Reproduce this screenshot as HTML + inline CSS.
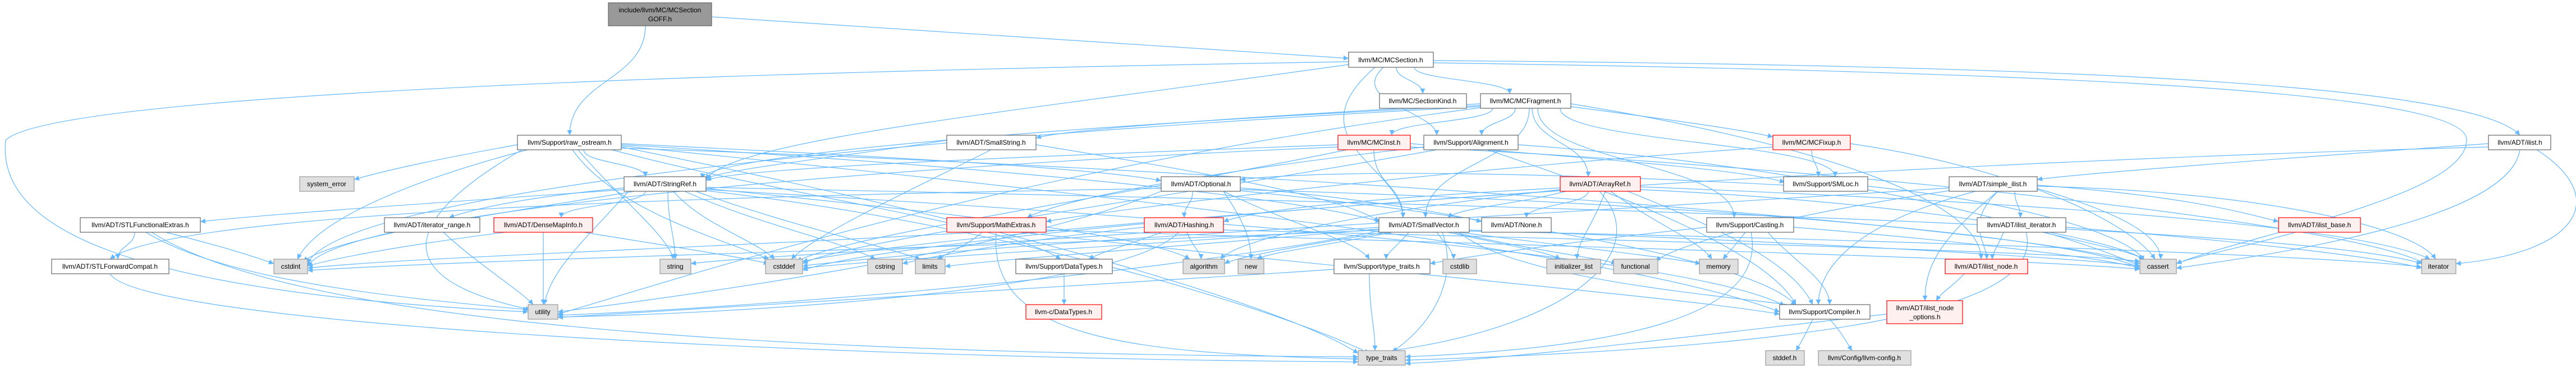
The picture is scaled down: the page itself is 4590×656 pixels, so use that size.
<!DOCTYPE html>
<html><head><meta charset="utf-8"><style>
html,body{margin:0;padding:0;background:#fff;}
svg{display:block;}
text{font-family:"Liberation Sans",Arial,sans-serif;font-size:12px;fill:#000;}
</style></head><body>
<svg width="4590" height="656" viewBox="0 0 4590 656" xmlns="http://www.w3.org/2000/svg">
<defs><marker id="a" viewBox="0 0 10 10" refX="10" refY="5" markerWidth="9" markerHeight="9" orient="auto" markerUnits="userSpaceOnUse"><path d="M0,0L10,5L0,10z" fill="#63b8ff"/></marker></defs>
<g fill="none" stroke="#63b8ff" stroke-width="1.2" marker-end="url(#a)">
<path d="M1150,46C1150,143 1015,143 1015,241"/>
<path d="M1268,30L2403,104"/>
<path d="M2488,120C2488,143 2535,143 2535,167"/>
<path d="M2520,120C2520,143 2690,143 2690,167"/>
<path d="M2465,120C2400,180 2560,200 2560,241"/>
<path d="M2450,120C2300,250 2500,300 2500,388"/>
<path d="M2554,108C3500,115 4400,140 4490,241"/>
<path d="M2403,110C1500,125 100,160 10,250C-5,400 200,520 941,556"/>
<path d="M2403,115C1800,200 1300,250 1258,320"/>
<path d="M2554,112C3800,130 4400,170 4395,250C4395,350 4000,420 3878,470"/>
<path d="M2660,193C2660,217 2480,217 2480,241"/>
<path d="M2700,193C2700,217 2640,217 2640,241"/>
<path d="M2799,190C2950,210 3100,230 3159,244"/>
<path d="M2730,193C2730,254 2830,254 2830,315"/>
<path d="M2725,193C2725,290 2540,290 2540,388"/>
<path d="M2740,193C2740,290 3090,290 3090,388"/>
<path d="M2780,193C2780,254 3270,254 3270,315"/>
<path d="M2799,185C3200,250 3530,350 3530,462"/>
<path d="M2638,188C1800,230 1260,280 1250,318"/>
<path d="M2638,185C2200,210 1900,230 1846,246"/>
<path d="M2638,190C1500,250 600,350 548,470"/>
<path d="M2638,192C1800,300 1200,500 994,560"/>
<path d="M1040,267C1040,291 1150,291 1150,315"/>
<path d="M922,258C800,280 700,300 631,320"/>
<path d="M940,267C700,330 560,400 530,462"/>
<path d="M1020,267C1100,380 1300,430 1370,462"/>
<path d="M1030,267C1100,350 1190,420 1200,462"/>
<path d="M1090,267C1400,350 1800,400 1890,462"/>
<path d="M1107,262C1800,400 2300,550 2420,630"/>
<path d="M1107,256C1600,280 1950,300 2069,322"/>
<path d="M1107,258C1800,300 2300,350 2460,395"/>
<path d="M1107,260C2000,350 2900,450 3171,556"/>
<path d="M1107,264C2200,300 3600,400 3813,470"/>
<path d="M930,267C700,400 700,500 945,552"/>
<path d="M1150,341C1150,365 1000,365 1000,388"/>
<path d="M1112,335C950,350 850,370 800,388"/>
<path d="M1112,338C800,360 500,380 357,395"/>
<path d="M1190,341C1190,400 1203,420 1203,462"/>
<path d="M1200,341C1250,400 1350,430 1380,462"/>
<path d="M1220,341C1350,400 1500,430 1560,462"/>
<path d="M1130,341C900,380 600,420 540,466"/>
<path d="M1240,341C1400,400 1580,440 1640,462"/>
<path d="M1258,336C1700,380 2050,420 2120,462"/>
<path d="M1258,340C1800,400 2300,560 2440,630"/>
<path d="M1258,338C2000,380 3000,450 3180,545"/>
<path d="M1258,334C2500,360 4100,400 4315,470"/>
<path d="M1120,341C1050,420 980,480 970,543"/>
<path d="M1687,250C1500,280 1300,300 1258,318"/>
<path d="M1846,258C2100,300 2400,350 2457,395"/>
<path d="M1766,267C1600,350 1450,420 1410,462"/>
<path d="M2513,256C2800,280 3100,300 3180,325"/>
<path d="M2448,267C2448,330 2500,330 2500,388"/>
<path d="M2384,258C1800,280 1300,300 1258,322"/>
<path d="M2384,262C1500,300 600,380 548,475"/>
<path d="M2400,267C2000,350 1500,420 1420,466"/>
<path d="M2513,262C3300,300 4200,400 4320,470"/>
<path d="M2537,262C2200,300 1900,350 1830,388"/>
<path d="M2705,258C3300,300 3700,420 3813,475"/>
<path d="M2560,267C2100,350 1500,430 1430,470"/>
<path d="M2650,267C2900,350 3150,450 3200,543"/>
<path d="M3228,267C3228,291 3240,291 3240,315"/>
<path d="M3297,256C3600,300 3800,400 3840,462"/>
<path d="M3159,262C2600,300 2000,370 1864,395"/>
<path d="M2125,341C2125,365 2110,365 2110,388"/>
<path d="M2210,335C2400,350 2580,380 2640,395"/>
<path d="M2069,336C1200,350 300,380 196,462"/>
<path d="M2180,341C2300,400 2420,430 2440,462"/>
<path d="M2180,341C2220,400 2229,430 2229,462"/>
<path d="M2210,338C3000,360 3700,420 3813,478"/>
<path d="M2210,340C2800,400 3150,480 3200,545"/>
<path d="M2069,341C1800,450 1200,530 994,556"/>
<path d="M2830,341C2830,365 2720,365 2720,388"/>
<path d="M2790,341C2700,365 2600,370 2580,388"/>
<path d="M2780,335C2500,350 2250,370 2180,395"/>
<path d="M2860,341C2840,400 2810,430 2810,462"/>
<path d="M2870,341C2950,400 3030,430 3050,462"/>
<path d="M2850,341C2950,450 2800,580 2480,625"/>
<path d="M2923,333C3600,360 4200,400 4330,462"/>
<path d="M2923,338C3400,360 3750,420 3820,462"/>
<path d="M2780,338C2400,380 2200,430 2175,462"/>
<path d="M2780,340C2200,380 1600,430 1430,466"/>
<path d="M2900,341C3100,420 3200,480 3230,543"/>
<path d="M3178,330C2800,310 2400,300 2210,320"/>
<path d="M3328,332C3600,360 3800,420 3820,465"/>
<path d="M3630,330C3900,350 4000,380 4060,395"/>
<path d="M3590,341C3590,365 3600,365 3600,388"/>
<path d="M3560,341C3500,400 3540,430 3540,462"/>
<path d="M3560,341C3450,430 3430,480 3430,536"/>
<path d="M3520,341C3300,400 3240,480 3240,543"/>
<path d="M3630,336C3780,380 3850,420 3850,462"/>
<path d="M3473,335C2800,380 1800,430 1430,474"/>
<path d="M3473,340C3200,380 3000,430 2950,465"/>
<path d="M3630,332C4000,340 4300,400 4340,462"/>
<path d="M240,414C240,438 210,438 210,462"/>
<path d="M295,414C400,440 460,460 488,470"/>
<path d="M260,414C400,500 700,530 941,552"/>
<path d="M270,414C500,560 1200,630 2420,636"/>
<path d="M790,414C850,470 930,520 950,543"/>
<path d="M968,414L968,543"/>
<path d="M1040,414C1200,440 1330,460 1370,470"/>
<path d="M900,414C700,440 600,460 548,474"/>
<path d="M1750,414C1720,440 1690,450 1670,462"/>
<path d="M1740,414C1300,440 700,460 548,478"/>
<path d="M1775,414C1760,600 2000,630 2420,640"/>
<path d="M1864,410C2800,440 3600,460 3813,480"/>
<path d="M1820,414C2400,480 3000,530 3171,560"/>
<path d="M2115,414C2125,440 2140,450 2140,462"/>
<path d="M2180,410C3000,430 3700,450 3813,466"/>
<path d="M2070,414C2000,440 1960,450 1940,462"/>
<path d="M2050,414C1700,440 1300,460 1231,470"/>
<path d="M2100,414C2000,520 1300,560 994,565"/>
<path d="M2039,405C1800,430 1650,460 1608,470"/>
<path d="M2510,414C2490,440 2470,450 2470,462"/>
<path d="M2560,414C2580,440 2590,450 2590,462"/>
<path d="M2580,414C2700,440 2760,450 2780,462"/>
<path d="M2590,414C2750,450 2850,460 2880,470"/>
<path d="M2600,414C2800,440 2980,460 3030,470"/>
<path d="M2618,410C3200,430 3700,460 3813,474"/>
<path d="M2618,412C3500,430 4200,460 4315,476"/>
<path d="M2600,414C2700,500 3100,530 3200,545"/>
<path d="M2570,414C2600,500 2550,580 2480,628"/>
<path d="M2457,405C2000,440 1600,460 1430,478"/>
<path d="M2457,410C1800,440 900,460 548,482"/>
<path d="M2457,408C2100,440 1800,460 1684,475"/>
<path d="M2480,414C2350,440 2260,450 2240,462"/>
<path d="M2470,414C2300,440 2200,460 2182,470"/>
<path d="M2457,412C2000,500 1300,550 994,562"/>
<path d="M3110,414C3090,440 3080,450 3070,462"/>
<path d="M3120,414C3150,560 2900,620 2504,636"/>
<path d="M3196,405C3500,430 3750,460 3813,478"/>
<path d="M3150,414C3200,470 3260,500 3260,543"/>
<path d="M3041,405C2800,430 2600,460 2548,470"/>
<path d="M3570,414C3560,440 3550,450 3550,462"/>
<path d="M3640,414C3750,440 3800,450 3820,462"/>
<path d="M3681,405C4000,430 4250,460 4315,478"/>
<path d="M3610,414C3650,560 3200,620 2504,642"/>
<path d="M4090,414C4000,440 3900,460 3878,470"/>
<path d="M4434,256C4100,280 3700,310 3630,320"/>
<path d="M4490,267C4470,400 4000,460 3878,478"/>
<path d="M4520,267C4650,350 4600,450 4376,470"/>
<path d="M4434,262C3000,300 1600,420 1430,482"/>
<path d="M196,488C250,580 1500,640 2420,645"/>
<path d="M2440,488C2440,560 2450,580 2450,625"/>
<path d="M2377,480C1800,520 1200,550 994,566"/>
<path d="M1896,488L1896,543"/>
<path d="M3500,488C3480,510 3460,520 3450,536"/>
<path d="M3362,560C3000,600 2700,640 2504,648"/>
<path d="M3230,569C3220,590 3210,610 3200,625"/>
<path d="M3260,569C3280,590 3290,610 3300,625"/>
</g>
<g stroke-width="1.2">
<rect x="1084" y="5" width="184" height="41" fill="#999" stroke="#666"/>
<text x="1176" y="22" text-anchor="middle">include/llvm/MC/MCSection</text>
<text x="1176" y="38" text-anchor="middle">GOFF.h</text>
<g fill="#fff" stroke="#666">
<rect x="2403" y="93" width="151" height="27"/>
<rect x="2458" y="167" width="155" height="26"/>
<rect x="2638" y="167" width="161" height="26"/>
<rect x="922" y="241" width="185" height="26"/>
<rect x="1687" y="241" width="159" height="26"/>
<rect x="2537" y="241" width="168" height="26"/>
<rect x="4434" y="241" width="111" height="26"/>
<rect x="1112" y="315" width="146" height="26"/>
<rect x="2069" y="315" width="141" height="26"/>
<rect x="3178" y="315" width="150" height="26"/>
<rect x="3473" y="315" width="157" height="26"/>
<rect x="143" y="388" width="214" height="26"/>
<rect x="685" y="388" width="170" height="26"/>
<rect x="2457" y="388" width="161" height="26"/>
<rect x="2640" y="388" width="124" height="26"/>
<rect x="3041" y="388" width="155" height="26"/>
<rect x="3523" y="388" width="158" height="26"/>
<rect x="92" y="462" width="209" height="26"/>
<rect x="1810" y="462" width="172" height="26"/>
<rect x="2377" y="462" width="171" height="26"/>
<rect x="3171" y="543" width="161" height="26"/>
</g>
<g fill="#fff0f0" stroke="#f00">
<rect x="2384" y="241" width="129" height="26"/>
<rect x="3159" y="241" width="138" height="26"/>
<rect x="2780" y="315" width="143" height="26"/>
<rect x="880" y="388" width="176" height="26"/>
<rect x="1687" y="388" width="177" height="26"/>
<rect x="2039" y="388" width="141" height="26"/>
<rect x="4060" y="388" width="146" height="26"/>
<rect x="3466" y="462" width="147" height="26"/>
<rect x="1828" y="543" width="135" height="26"/>
<rect x="3362" y="536" width="135" height="41"/>
</g>
<g fill="#e0e0e0" stroke="#999">
<rect x="534" y="315" width="97" height="26"/>
<rect x="488" y="462" width="60" height="26"/>
<rect x="1176" y="462" width="55" height="26"/>
<rect x="1364" y="462" width="66" height="26"/>
<rect x="1546" y="462" width="62" height="26"/>
<rect x="1631" y="462" width="53" height="26"/>
<rect x="2108" y="462" width="74" height="26"/>
<rect x="2206" y="462" width="46" height="26"/>
<rect x="2571" y="462" width="60" height="26"/>
<rect x="2756" y="462" width="96" height="26"/>
<rect x="2875" y="462" width="79" height="26"/>
<rect x="3028" y="462" width="69" height="26"/>
<rect x="3813" y="462" width="65" height="26"/>
<rect x="4315" y="462" width="61" height="26"/>
<rect x="941" y="543" width="53" height="26"/>
<rect x="2420" y="625" width="84" height="26"/>
<rect x="3146" y="625" width="69" height="26"/>
<rect x="3240" y="625" width="165" height="26"/>
</g>
</g>
<g text-anchor="middle">
<text x="2478" y="111">llvm/MC/MCSection.h</text>
<text x="2535" y="184">llvm/MC/SectionKind.h</text>
<text x="2718" y="184">llvm/MC/MCFragment.h</text>
<text x="1015" y="258">llvm/Support/raw_ostream.h</text>
<text x="1766" y="258">llvm/ADT/SmallString.h</text>
<text x="2448" y="258">llvm/MC/MCInst.h</text>
<text x="2621" y="258">llvm/Support/Alignment.h</text>
<text x="3228" y="258">llvm/MC/MCFixup.h</text>
<text x="4490" y="258">llvm/ADT/ilist.h</text>
<text x="582" y="332">system_error</text>
<text x="1185" y="332">llvm/ADT/StringRef.h</text>
<text x="2140" y="332">llvm/ADT/Optional.h</text>
<text x="2851" y="332">llvm/ADT/ArrayRef.h</text>
<text x="3253" y="332">llvm/Support/SMLoc.h</text>
<text x="3551" y="332">llvm/ADT/simple_ilist.h</text>
<text x="250" y="405">llvm/ADT/STLFunctionalExtras.h</text>
<text x="770" y="405">llvm/ADT/iterator_range.h</text>
<text x="968" y="405">llvm/ADT/DenseMapInfo.h</text>
<text x="1775" y="405">llvm/Support/MathExtras.h</text>
<text x="2110" y="405">llvm/ADT/Hashing.h</text>
<text x="2537" y="405">llvm/ADT/SmallVector.h</text>
<text x="2702" y="405">llvm/ADT/None.h</text>
<text x="3118" y="405">llvm/Support/Casting.h</text>
<text x="3602" y="405">llvm/ADT/ilist_iterator.h</text>
<text x="4133" y="405">llvm/ADT/ilist_base.h</text>
<text x="196" y="479">llvm/ADT/STLForwardCompat.h</text>
<text x="518" y="479">cstdint</text>
<text x="1203" y="479">string</text>
<text x="1397" y="479">cstddef</text>
<text x="1577" y="479">cstring</text>
<text x="1657" y="479">limits</text>
<text x="1896" y="479">llvm/Support/DataTypes.h</text>
<text x="2145" y="479">algorithm</text>
<text x="2229" y="479">new</text>
<text x="2462" y="479">llvm/Support/type_traits.h</text>
<text x="2601" y="479">cstdlib</text>
<text x="2804" y="479">initializer_list</text>
<text x="2914" y="479">functional</text>
<text x="3062" y="479">memory</text>
<text x="3539" y="479">llvm/ADT/ilist_node.h</text>
<text x="3845" y="479">cassert</text>
<text x="4345" y="479">iterator</text>
<text x="967" y="560">utility</text>
<text x="1895" y="560">llvm-c/DataTypes.h</text>
<text x="3251" y="560">llvm/Support/Compiler.h</text>
<text x="3430" y="553">llvm/ADT/ilist_node</text>
<text x="3430" y="569">_options.h</text>
<text x="2462" y="642">type_traits</text>
<text x="3180" y="642">stddef.h</text>
<text x="3322" y="642">llvm/Config/llvm-config.h</text>
</g>
</svg>
</body></html>
